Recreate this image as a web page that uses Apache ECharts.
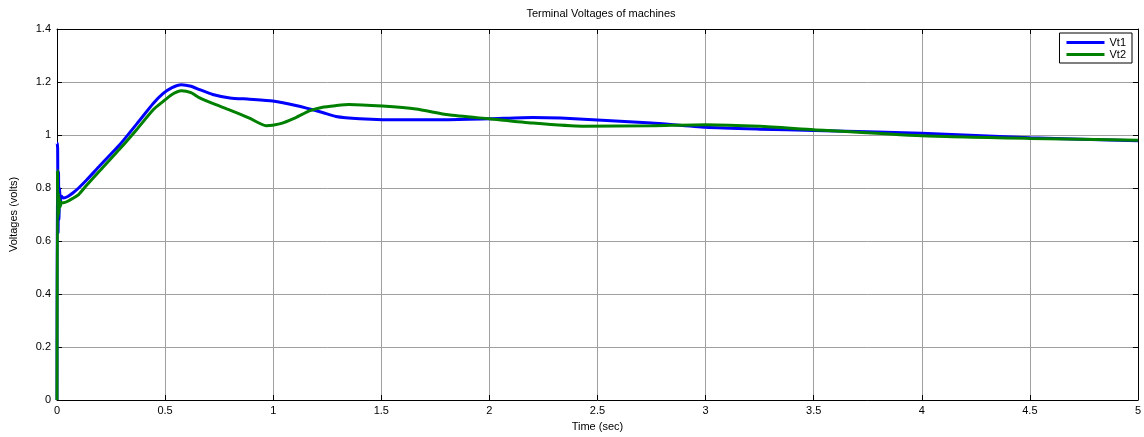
<!DOCTYPE html>
<html><head><meta charset="utf-8">
<script src="https://cdn.jsdelivr.net/npm/echarts@6/dist/echarts.min.js"></script>
<style>html,body{margin:0;padding:0;background:#fff}#c{width:1144px;height:437px}</style>
</head><body><div id="c"></div>
<script>
const xTicks = [0, 0.5, 1, 1.5, 2, 2.5, 3, 3.5, 4, 4.5, 5];
const yTicks = [0, 0.2, 0.4, 0.6, 0.8, 1, 1.2, 1.4];
const seriesNames = ['Vt1', 'Vt2'];
const t1 = [0,0.001,0.003,0.005,0.007,0.009,0.012,0.015,0.02,0.03,0.05,0.076,0.1,0.137,0.2,0.291,0.37,0.445,0.49,0.53,0.575,0.62,0.66,0.72,0.8,0.89,0.998,1.105,1.228,1.29,1.4,1.505,1.81,2.0,2.2,2.33,2.5,2.75,3.0,3.25,3.5,4.0,4.5,5.0];
const v1 = [0,0.97,0.95,0.63,0.86,0.68,0.80,0.74,0.77,0.762,0.768,0.783,0.80,0.83,0.886,0.964,1.043,1.119,1.156,1.178,1.19,1.184,1.171,1.153,1.14,1.135,1.128,1.111,1.085,1.07,1.061,1.058,1.058,1.061,1.066,1.064,1.057,1.045,1.029,1.022,1.017,1.007,0.99,0.978];
const t2 = [0,0.002,0.004,0.006,0.008,0.011,0.015,0.02,0.03,0.05,0.076,0.1,0.137,0.2,0.291,0.37,0.445,0.49,0.53,0.575,0.62,0.66,0.72,0.8,0.89,0.967,1.029,1.105,1.167,1.228,1.29,1.35,1.505,1.66,1.81,2.0,2.2,2.43,2.75,3.0,3.25,3.5,4.0,4.5,5.0];
const v2 = [0,0.867,0.69,0.78,0.70,0.76,0.73,0.745,0.744,0.75,0.762,0.775,0.81,0.867,0.948,1.022,1.095,1.126,1.152,1.167,1.16,1.14,1.119,1.094,1.064,1.035,1.042,1.066,1.091,1.105,1.111,1.115,1.109,1.098,1.076,1.061,1.045,1.033,1.035,1.039,1.033,1.02,0.997,0.987,0.98];

const pair = (t, v) => t.map((x, i) => [x, v[i]]);
const FONT = 'Liberation Sans';
const chart = echarts.init(document.getElementById('c'));
const gridLine = {show: true, lineStyle: {color: '#a0a0a0', width: 1}};
const xBase = {type: 'value', min: xTicks[0], max: xTicks[xTicks.length-1], interval: 0.5};
const yBase = {type: 'value', min: yTicks[0], max: yTicks[yTicks.length-1], interval: 0.2};
chart.setOption({
  animation: false,
  textStyle: {fontFamily: FONT},
  title: {text: 'Terminal Voltages of machines', left: 596, top: 3, textAlign: 'center',
    textStyle: {fontSize: 11, fontWeight: 'normal', color: '#000', fontFamily: FONT}},
  grid: {left: 54, right: 6, top: 29, bottom: 29},
  legend: {data: seriesNames, right: 12, top: 33, orient: 'vertical', icon: 'rect', itemWidth: 38, itemHeight: 3,
    itemGap: 1, padding: [4, 6, 3, 7], borderColor: '#000', borderWidth: 1, backgroundColor: '#fff',
    textStyle: {fontSize: 11, color: '#000', fontFamily: FONT}},
  xAxis: [
    Object.assign({}, xBase, {position: 'bottom', name: 'Time (sec)', nameLocation: 'middle', nameGap: 21,
      nameTextStyle: {fontSize: 11, color: '#000', fontFamily: FONT},
      axisLine: {show: true, onZero: false, lineStyle: {color: '#000', width: 1}},
      axisTick: {show: true, inside: true, length: 5, lineStyle: {color: '#000'}},
      axisLabel: {fontSize: 11, color: '#000', margin: 5, fontFamily: FONT},
      splitLine: gridLine}),
    Object.assign({}, xBase, {position: 'top',
      axisLine: {show: true, onZero: false, lineStyle: {color: '#000', width: 1}},
      axisTick: {show: true, inside: true, length: 5, lineStyle: {color: '#000'}},
      axisLabel: {show: false}, splitLine: {show: false}})
  ],
  yAxis: [
    Object.assign({}, yBase, {position: 'left', name: 'Voltages (volts)', nameLocation: 'middle', nameGap: 38,
      nameTextStyle: {fontSize: 11, color: '#000', fontFamily: FONT},
      axisLine: {show: true, onZero: false, lineStyle: {color: '#000', width: 1}},
      axisTick: {show: true, inside: true, length: 5, lineStyle: {color: '#000'}},
      axisLabel: {fontSize: 11, color: '#000', margin: 6, fontFamily: FONT},
      splitLine: gridLine}),
    Object.assign({}, yBase, {position: 'right',
      axisLine: {show: true, onZero: false, lineStyle: {color: '#000', width: 1}},
      axisTick: {show: true, inside: true, length: 5, lineStyle: {color: '#000'}},
      axisLabel: {show: false}, splitLine: {show: false}})
  ],
  series: [
    {name: seriesNames[0], type: 'line', data: pair(t1, v1), symbol: 'none', smooth: 0.2,
      lineStyle: {color: '#0000ff', width: 3}, itemStyle: {color: '#0000ff'}},
    {name: seriesNames[1], type: 'line', data: pair(t2, v2), symbol: 'none', smooth: 0.2,
      lineStyle: {color: '#008000', width: 3}, itemStyle: {color: '#008000'}}
  ]
});
</script></body></html>
